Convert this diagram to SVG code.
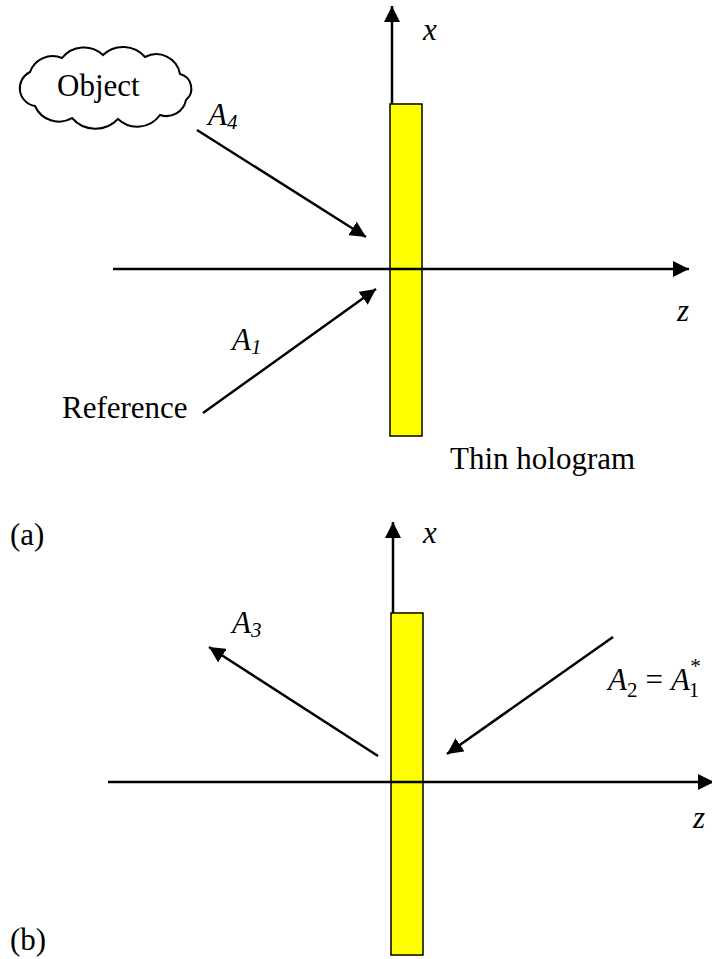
<svg xmlns="http://www.w3.org/2000/svg" width="712" height="959" viewBox="0 0 712 959">
<style>
.ln{stroke:#000;stroke-width:2.5;fill:none}
.ar{marker-end:url(#ah)}
.holo{fill:#FFFF00;stroke:#000;stroke-width:1.5}
.t{font-family:"Liberation Serif","Times New Roman",serif;font-size:31px;fill:#000}
.i{font-style:italic}
.sub{font-size:21px}
</style>
<defs>
<marker id="ah" markerUnits="userSpaceOnUse" markerWidth="17" markerHeight="16" refX="16" refY="8" orient="auto">
<path d="M0,0 L16,8 L0,16 z" fill="#000"/>
</marker>
</defs>
<rect width="712" height="959" fill="#fff"/>

<g id="panel-a">
<g id="cloud-object">
<path d="M30,72 A24,24 0 0 1 62,58 A28,28 0 0 1 103,55 A29,29 0 0 1 145,57 A24,24 0 0 1 180,74 A15,15 0 0 1 186,100 A20,20 0 0 1 160,115 A28,28 0 0 1 118,119 A31,31 0 0 1 72,118 A26,26 0 0 1 35,106 A18,18 0 0 1 30,72 z" fill="#fff" stroke="#000" stroke-width="2"/>
<text class="t" x="57" y="96">Object</text>
</g>
<g id="hologram-a">
<rect class="holo" x="390" y="104" width="32" height="332"/>
<text class="t" x="450" y="469">Thin hologram</text>
</g>
<g id="axes-a">
<line class="ln ar" x1="392" y1="104" x2="392" y2="6"/>
<line class="ln ar" x1="113" y1="269" x2="689" y2="269"/>
<text class="t i" x="423" y="40">x</text>
<text class="t i" x="677" y="321">z</text>
</g>
<g id="label-a4">
<text class="t i" x="208" y="125">A<tspan class="sub" dy="4">4</tspan></text>
</g>
<g id="label-a1">
<text class="t i" x="232" y="350">A<tspan class="sub" dy="4">1</tspan></text>
</g>
<g id="label-reference">
<text class="t" x="62" y="418">Reference</text>
</g>
<text class="t" x="10" y="545">(a)</text>
</g>

<g id="panel-b">
<g id="hologram-b">
<rect class="holo" x="391" y="613" width="32" height="342"/>
</g>
<g id="axes-b">
<line class="ln ar" x1="393" y1="613" x2="393" y2="522"/>
<line class="ln ar" x1="108" y1="782" x2="714" y2="782"/>
<text class="t i" x="423" y="543">x</text>
<text class="t i" x="693" y="828">z</text>
</g>
<g id="label-a3">
<text class="t i" x="232" y="633">A<tspan class="sub" dy="4">3</tspan></text>
</g>
<g id="label-a2">
<text class="t" x="608" y="690"><tspan class="i">A</tspan><tspan class="sub" dy="7">2</tspan><tspan dy="-7" dx="8">=</tspan><tspan class="i" dx="8">A</tspan><tspan class="sub" dy="7" dx="-1">1</tspan><tspan class="sub" dy="-24" dx="-9">*</tspan></text>
</g>
<text class="t" x="10" y="950">(b)</text>
</g>

<g id="connectors">
<line class="ln ar" x1="197" y1="130" x2="366" y2="237"/>
<line class="ln ar" x1="203" y1="413" x2="376" y2="289"/>
<line class="ln ar" x1="378" y1="756" x2="209" y2="647"/>
<line class="ln ar" x1="613" y1="637" x2="447" y2="754"/>
</g>
</svg>
